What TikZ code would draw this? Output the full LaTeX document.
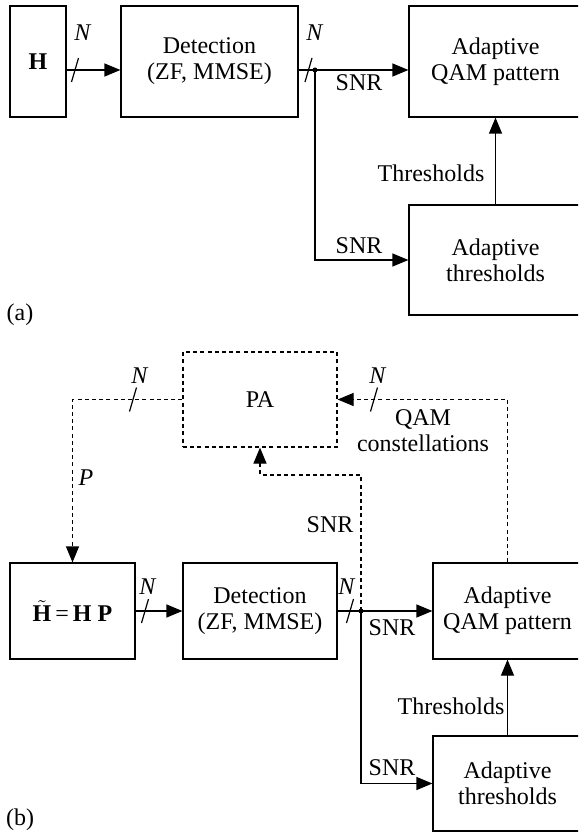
\documentclass[tikz,border=0pt]{standalone}
\usepackage{fontspec}
\setmainfont{Liberation Serif}
\usetikzlibrary{arrows.meta}
\begin{document}
\begin{tikzpicture}[x=0.5pt,y=-0.5pt,
  box/.style={draw,line width=0.6pt,inner sep=0pt,align=center,font=\fontsize{12}{13}\selectfont},
  lbl/.style={inner sep=0pt,align=center,font=\fontsize{12}{13}\selectfont},
  conn/.style={line width=0.6pt},
  arr/.style={conn,-{Triangle[length=8pt,width=6.5pt]}},
  dsh/.style={dash pattern=on 2pt off 1.6pt},
  slash/.style={line width=0.6pt},
  jdot/.style={circle,fill,inner sep=0pt,minimum size=2.5pt}]
\clip (0,0) rectangle (578,834);
% ---------- (a) ----------
\node[box,minimum width=28pt,minimum height=55.5pt] (H) at (38,61.5) {\textbf{H}};
\node[box,minimum width=88.5pt,minimum height=55.5pt] (D) at (209.5,61.5) {Detection\\(ZF, MMSE)};
\node[box,minimum width=86.5pt,minimum height=55.5pt] (Q) at (495.5,61.5) {Adaptive\\QAM pattern};
\node[box,minimum width=86.5pt,minimum height=55pt] (T) at (495.5,260) {Adaptive\\thresholds};
\coordinate (ja) at (315,70);
\coordinate (sa1) at (75,70);
\coordinate (sa2) at (308.5,70);
\draw[arr] (H.east |- ja) -- (D.west |- ja);
\draw[arr] (D.east |- ja) -- (Q.west |- ja);
\draw[arr] (ja) |- (T.west);
\draw[arr] (T.north) -- (Q.south);
\draw[slash] (sa1) ++(-3.5,12) -- ++(7,-24);
\draw[slash] (sa2) ++(-3.5,12) -- ++(7,-24);
\node[jdot] (jda) at (ja) {};
\node[lbl] (na1) at (83,33) {\textit{N}};
\node[lbl] (na2) at (315,33) {\textit{N}};
\node[lbl] (snra1) at (359,83) {SNR};
\node[lbl] (snra2) at (359,246) {SNR};
\node[lbl] (tha) at (431,173) {Thresholds};
\node[lbl] (la) at (20,315) {(a)};
% ---------- (b) ----------
\node[box,minimum width=62.5pt,minimum height=48pt] (Hb) at (72.5,611) {$\tilde{\hbox{\textbf{H}}}$\,=\,\textbf{H P}};
\node[box,minimum width=77pt,minimum height=48pt] (Db) at (260,611) {Detection\\(ZF, MMSE)};
\node[box,minimum width=74.5pt,minimum height=48pt] (Qb) at (507.5,611) {Adaptive\\QAM pattern};
\node[box,minimum width=74.5pt,minimum height=47.5pt] (Tb) at (507.5,783.5) {Adaptive\\thresholds};
\node[box,dsh,minimum width=77pt,minimum height=47.5pt] (PA) at (260,399.5) {PA};
\coordinate (jb) at (361,611);
\coordinate (kb) at (361,475);
\draw[arr] (Hb) -- (Db);
\draw[arr] (Db) -- (Qb);
\draw[arr] (jb) |- (Tb.west);
\draw[arr] (Tb) -- (Qb);
\draw[arr,dsh] (PA.west) -| (Hb.north);
\draw[arr,dsh] (Qb.north) |- (PA.east);
\draw[arr,dsh] (jb) -- (kb) -| (PA.south);
\coordinate (sb1) at (145,611);
\coordinate (sb2) at (350,611);
\coordinate (sb3) at (133,399.5);
\coordinate (sb4) at (374,399.5);
\draw[slash] (sb1) ++(-3.5,12) -- ++(7,-24);
\draw[slash] (sb2) ++(-3.5,12) -- ++(7,-24);
\draw[slash] (sb3) ++(-3.5,12) -- ++(7,-24);
\draw[slash] (sb4) ++(-3.5,12) -- ++(7,-24);
\node[jdot] (jdb) at (jb) {};
\node[lbl] (nb1) at (148,587) {\textit{N}};
\node[lbl] (nb2) at (347,587) {\textit{N}};
\node[lbl] (nb3) at (140,376) {\textit{N}};
\node[lbl] (nb4) at (378,376) {\textit{N}};
\node[lbl] (pb) at (86,478) {\textit{P}};
\node[lbl] (snrb0) at (330,525) {SNR};
\node[lbl] (qc) at (423,431) {QAM\\constellations};
\node[lbl] (snrb1) at (392,628) {SNR};
\node[lbl] (snrb2) at (392,768) {SNR};
\node[lbl] (thb) at (451,706) {Thresholds};
\node[lbl] (lb) at (20,820) {(b)};
\end{tikzpicture}
\end{document}
